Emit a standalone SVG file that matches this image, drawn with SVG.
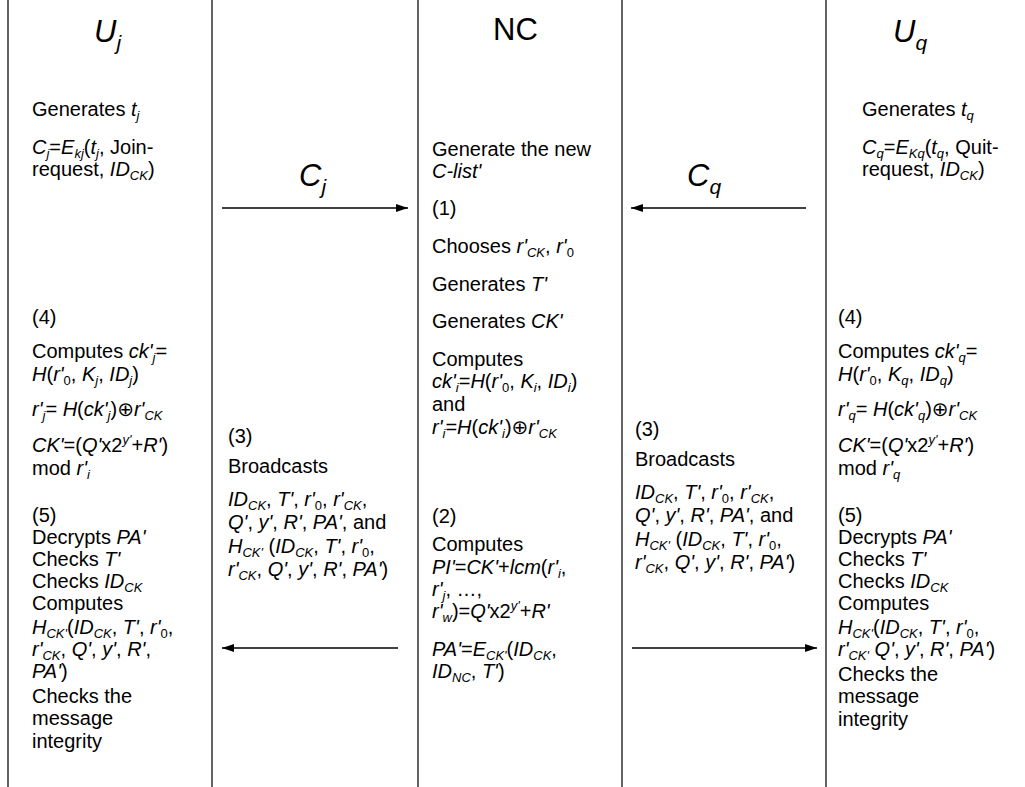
<svg xmlns="http://www.w3.org/2000/svg" width="1025" height="787" viewBox="0 0 1025 787">
<style>
text{font-family:"Liberation Sans",Arial,"DejaVu Sans",sans-serif;font-size:20px;fill:#000}
.i{font-style:italic}
.s{font-size:13px}
.h{font-size:31px}
.hs{font-size:21px}
.life{stroke:#222;stroke-width:1.4}
.msg{stroke:#000;stroke-width:1.5;fill:none}
</style>
<defs>
<marker id="ah" viewBox="0 0 12 8" refX="12" refY="4" markerWidth="12" markerHeight="8" markerUnits="userSpaceOnUse" orient="auto">
<path d="M0,0 L12,4 L0,8 z" fill="#000"/>
</marker>
</defs>
<rect width="1025" height="787" fill="#fff"/>
<g id="lifelines">
<line class="life" x1="8" y1="0" x2="8" y2="787"/>
<line class="life" x1="212" y1="0" x2="212" y2="787"/>
<line class="life" x1="418" y1="0" x2="418" y2="787"/>
<line class="life" x1="622" y1="0" x2="622" y2="787"/>
<line class="life" x1="826" y1="0" x2="826" y2="787"/>
</g>
<g id="connectors">
<line class="msg" x1="222" y1="208" x2="408" y2="208" marker-end="url(#ah)"/>
<line class="msg" x1="806" y1="208" x2="631" y2="208" marker-end="url(#ah)"/>
<line class="msg" x1="398" y1="648" x2="222" y2="648" marker-end="url(#ah)"/>
<line class="msg" x1="632" y1="648" x2="817" y2="648" marker-end="url(#ah)"/>
<text class="i h" x="299" y="186">C<tspan class="hs" dy="8">j</tspan></text>
<text class="i h" x="687" y="186">C<tspan class="hs" dy="8">q</tspan></text>
</g>
<g id="uj">
<text class="i h" x="94" y="42">U<tspan class="hs" dy="8">j</tspan></text>
<text x="32" y="116">Generates <tspan class="i">t</tspan><tspan class="i s" dy="4">j</tspan></text>
<text x="32" y="154"><tspan class="i">C</tspan><tspan class="i s" dy="4">j</tspan><tspan dy="-4">=</tspan><tspan class="i">E</tspan><tspan class="i s" dy="4">kj</tspan><tspan dy="-4">(</tspan><tspan class="i">t</tspan><tspan class="i s" dy="4">j</tspan><tspan dy="-4">, Join-</tspan></text>
<text x="32" y="176">request, <tspan class="i">ID</tspan><tspan class="i s" dy="4">CK</tspan><tspan dy="-4">)</tspan></text>
<text x="32" y="324">(4)</text>
<text x="32" y="358">Computes <tspan class="i">ck'</tspan><tspan class="i s" dy="4">j</tspan><tspan dy="-4">=</tspan></text>
<text x="32" y="381"><tspan class="i">H</tspan>(<tspan class="i">r'</tspan><tspan class="s" dy="4">0</tspan><tspan dy="-4">, </tspan><tspan class="i">K</tspan><tspan class="i s" dy="4">j</tspan><tspan dy="-4">, </tspan><tspan class="i">ID</tspan><tspan class="i s" dy="4">j</tspan><tspan dy="-4">)</tspan></text>
<text x="32" y="416"><tspan class="i">r'</tspan><tspan class="i s" dy="4">j</tspan><tspan dy="-4">= </tspan><tspan class="i">H</tspan>(<tspan class="i">ck'</tspan><tspan class="i s" dy="4">j</tspan><tspan dy="-4">)⊕</tspan><tspan class="i">r'</tspan><tspan class="i s" dy="4">CK</tspan></text>
<text x="32" y="452"><tspan class="i">CK'</tspan>=(<tspan class="i">Q'</tspan>x2<tspan class="i s" dy="-8">y'</tspan><tspan dy="8">+</tspan><tspan class="i">R'</tspan>)</text>
<text x="32" y="475">mod <tspan class="i">r'</tspan><tspan class="i s" dy="4">i</tspan></text>
<text x="32" y="522">(5)</text>
<text x="32" y="544">Decrypts <tspan class="i">PA'</tspan></text>
<text x="32" y="566">Checks <tspan class="i">T'</tspan></text>
<text x="32" y="588">Checks <tspan class="i">ID</tspan><tspan class="i s" dy="4">CK</tspan></text>
<text x="32" y="610">Computes</text>
<text x="32" y="634"><tspan class="i">H</tspan><tspan class="i s" dy="4">CK'</tspan><tspan dy="-4">(</tspan><tspan class="i">ID</tspan><tspan class="i s" dy="4">CK</tspan><tspan dy="-4">, </tspan><tspan class="i">T'</tspan>, <tspan class="i">r'</tspan><tspan class="s" dy="4">0</tspan><tspan dy="-4">,</tspan></text>
<text x="32" y="656"><tspan class="i">r'</tspan><tspan class="i s" dy="4">CK</tspan><tspan dy="-4">, </tspan><tspan class="i">Q'</tspan>, <tspan class="i">y'</tspan>, <tspan class="i">R'</tspan>,</text>
<text x="32" y="678"><tspan class="i">PA'</tspan>)</text>
<text x="32" y="703">Checks the</text>
<text x="32" y="725">message</text>
<text x="32" y="748">integrity</text>
</g>
<g id="bcast-j">
<text x="228" y="443">(3)</text>
<text x="228" y="473">Broadcasts</text>
<text x="228" y="506"> <tspan class="i">ID</tspan><tspan class="i s" dy="4">CK</tspan><tspan dy="-4">, </tspan><tspan class="i">T'</tspan>, <tspan class="i">r'</tspan><tspan class="s" dy="4">0</tspan><tspan dy="-4">, </tspan><tspan class="i">r'</tspan><tspan class="i s" dy="4">CK</tspan><tspan dy="-4">,</tspan></text>
<text x="228" y="529"><tspan class="i">Q'</tspan>, <tspan class="i">y'</tspan>, <tspan class="i">R'</tspan>, <tspan class="i">PA'</tspan>, and</text>
<text x="228" y="553"><tspan class="i">H</tspan><tspan class="i s" dy="4">CK'</tspan><tspan dy="-4"> (</tspan><tspan class="i">ID</tspan><tspan class="i s" dy="4">CK</tspan><tspan dy="-4">, </tspan><tspan class="i">T'</tspan>, <tspan class="i">r'</tspan><tspan class="s" dy="4">0</tspan><tspan dy="-4">,</tspan></text>
<text x="228" y="576"><tspan class="i">r'</tspan><tspan class="i s" dy="4">CK</tspan><tspan dy="-4">, </tspan><tspan class="i">Q'</tspan>, <tspan class="i">y'</tspan>, <tspan class="i">R'</tspan>, <tspan class="i">PA'</tspan>)</text>
</g>
<g id="nc">
<text class="h" x="493" y="40">NC</text>
<text x="432" y="156">Generate the new</text>
<text x="432" y="178" class="i">C-list'</text>
<text x="432" y="215">(1)</text>
<text x="432" y="253">Chooses <tspan class="i">r'</tspan><tspan class="i s" dy="4">CK</tspan><tspan dy="-4">, </tspan><tspan class="i">r'</tspan><tspan class="s" dy="4">0</tspan></text>
<text x="432" y="291">Generates <tspan class="i">T'</tspan></text>
<text x="432" y="328">Generates <tspan class="i">CK'</tspan></text>
<text x="432" y="366">Computes</text>
<text x="432" y="388"><tspan class="i">ck'</tspan><tspan class="i s" dy="4">i</tspan><tspan dy="-4">=</tspan><tspan class="i">H</tspan>(<tspan class="i">r'</tspan><tspan class="s" dy="4">0</tspan><tspan dy="-4">, </tspan><tspan class="i">K</tspan><tspan class="i s" dy="4">i</tspan><tspan dy="-4">, </tspan><tspan class="i">ID</tspan><tspan class="i s" dy="4">i</tspan><tspan dy="-4">)</tspan></text>
<text x="432" y="411">and</text>
<text x="432" y="434"><tspan class="i">r'</tspan><tspan class="i s" dy="4">i</tspan><tspan dy="-4">=</tspan><tspan class="i">H</tspan>(<tspan class="i">ck'</tspan><tspan class="i s" dy="4">i</tspan><tspan dy="-4">)⊕</tspan><tspan class="i">r'</tspan><tspan class="i s" dy="4">CK</tspan></text>
<text x="432" y="523">(2)</text>
<text x="432" y="551">Computes</text>
<text x="432" y="574"><tspan class="i">PI'</tspan>=<tspan class="i">CK'</tspan>+<tspan class="i">lcm</tspan>(<tspan class="i">r'</tspan><tspan class="i s" dy="4">i</tspan><tspan dy="-4">,</tspan></text>
<text x="432" y="596"><tspan class="i">r'</tspan><tspan class="i s" dy="4">j</tspan><tspan dy="-4">,  …,</tspan></text>
<text x="432" y="618"><tspan class="i">r'</tspan><tspan class="i s" dy="4">w</tspan><tspan dy="-4">)=</tspan><tspan class="i">Q'</tspan>x2<tspan class="i s" dy="-8">y'</tspan><tspan dy="8">+</tspan><tspan class="i">R'</tspan></text>
<text x="432" y="656"><tspan class="i">PA'</tspan>=<tspan class="i">E</tspan><tspan class="i s" dy="4">CK'</tspan><tspan dy="-4">(</tspan><tspan class="i">ID</tspan><tspan class="i s" dy="4">CK</tspan><tspan dy="-4">,</tspan></text>
<text x="432" y="678"><tspan class="i">ID</tspan><tspan class="i s" dy="4">NC</tspan><tspan dy="-4">, </tspan><tspan class="i">T'</tspan>)</text>
</g>
<g id="bcast-q">
<text x="635" y="436">(3)</text>
<text x="635" y="466">Broadcasts</text>
<text x="635" y="499"> <tspan class="i">ID</tspan><tspan class="i s" dy="4">CK</tspan><tspan dy="-4">, </tspan><tspan class="i">T'</tspan>, <tspan class="i">r'</tspan><tspan class="s" dy="4">0</tspan><tspan dy="-4">, </tspan><tspan class="i">r'</tspan><tspan class="i s" dy="4">CK</tspan><tspan dy="-4">,</tspan></text>
<text x="635" y="522"><tspan class="i">Q'</tspan>, <tspan class="i">y'</tspan>, <tspan class="i">R'</tspan>, <tspan class="i">PA'</tspan>, and</text>
<text x="635" y="546"><tspan class="i">H</tspan><tspan class="i s" dy="4">CK'</tspan><tspan dy="-4"> (</tspan><tspan class="i">ID</tspan><tspan class="i s" dy="4">CK</tspan><tspan dy="-4">, </tspan><tspan class="i">T'</tspan>, <tspan class="i">r'</tspan><tspan class="s" dy="4">0</tspan><tspan dy="-4">,</tspan></text>
<text x="635" y="569"><tspan class="i">r'</tspan><tspan class="i s" dy="4">CK</tspan><tspan dy="-4">, </tspan><tspan class="i">Q'</tspan>, <tspan class="i">y'</tspan>, <tspan class="i">R'</tspan>, <tspan class="i">PA'</tspan>)</text>
</g>
<g id="uq">
<text class="i h" x="893" y="42">U<tspan class="hs" dy="8">q</tspan></text>
<text x="862" y="116">Generates <tspan class="i">t</tspan><tspan class="i s" dy="4">q</tspan></text>
<text x="862" y="154"><tspan class="i">C</tspan><tspan class="i s" dy="4">q</tspan><tspan dy="-4">=</tspan><tspan class="i">E</tspan><tspan class="i s" dy="4">Kq</tspan><tspan dy="-4">(</tspan><tspan class="i">t</tspan><tspan class="i s" dy="4">q</tspan><tspan dy="-4">, Quit-</tspan></text>
<text x="862" y="176">request, <tspan class="i">ID</tspan><tspan class="i s" dy="4">CK</tspan><tspan dy="-4">)</tspan></text>
<text x="838" y="324">(4)</text>
<text x="838" y="358">Computes <tspan class="i">ck'</tspan><tspan class="i s" dy="4">q</tspan><tspan dy="-4">=</tspan></text>
<text x="838" y="381"><tspan class="i">H</tspan>(<tspan class="i">r'</tspan><tspan class="s" dy="4">0</tspan><tspan dy="-4">, </tspan><tspan class="i">K</tspan><tspan class="i s" dy="4">q</tspan><tspan dy="-4">, </tspan><tspan class="i">ID</tspan><tspan class="i s" dy="4">q</tspan><tspan dy="-4">)</tspan></text>
<text x="838" y="416"><tspan class="i">r'</tspan><tspan class="i s" dy="4">q</tspan><tspan dy="-4">= </tspan><tspan class="i">H</tspan>(<tspan class="i">ck'</tspan><tspan class="i s" dy="4">q</tspan><tspan dy="-4">)⊕</tspan><tspan class="i">r'</tspan><tspan class="i s" dy="4">CK</tspan></text>
<text x="838" y="452"><tspan class="i">CK'</tspan>=(<tspan class="i">Q'</tspan>x2<tspan class="i s" dy="-8">y'</tspan><tspan dy="8">+</tspan><tspan class="i">R'</tspan>)</text>
<text x="838" y="475">mod <tspan class="i">r'</tspan><tspan class="i s" dy="4">q</tspan></text>
<text x="838" y="522">(5)</text>
<text x="838" y="544">Decrypts <tspan class="i">PA'</tspan></text>
<text x="838" y="566">Checks <tspan class="i">T'</tspan></text>
<text x="838" y="588">Checks <tspan class="i">ID</tspan><tspan class="i s" dy="4">CK</tspan></text>
<text x="838" y="610">Computes</text>
<text x="838" y="634"><tspan class="i">H</tspan><tspan class="i s" dy="4">CK'</tspan><tspan dy="-4">(</tspan><tspan class="i">ID</tspan><tspan class="i s" dy="4">CK</tspan><tspan dy="-4">, </tspan><tspan class="i">T'</tspan>, <tspan class="i">r'</tspan><tspan class="s" dy="4">0</tspan><tspan dy="-4">,</tspan></text>
<text x="838" y="656"><tspan class="i">r'</tspan><tspan class="i s" dy="4">CK'</tspan><tspan dy="-4"> </tspan><tspan class="i">Q'</tspan>, <tspan class="i">y'</tspan>, <tspan class="i">R'</tspan>, <tspan class="i">PA'</tspan>)</text>
<text x="838" y="681">Checks the</text>
<text x="838" y="703">message</text>
<text x="838" y="726">integrity</text>
</g>
</svg>
